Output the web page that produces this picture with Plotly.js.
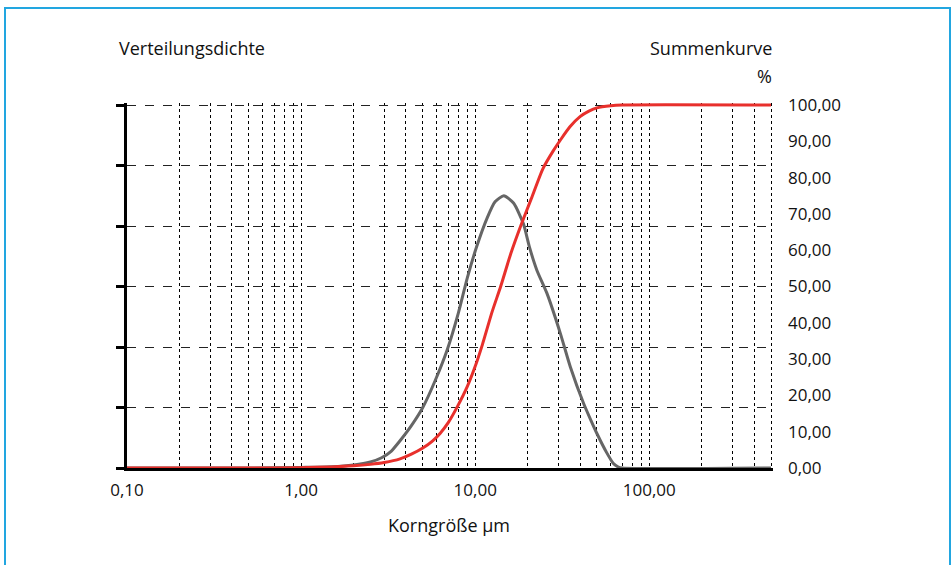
<!DOCTYPE html>
<html>
<head>
<meta charset="utf-8">
<script src="https://cdn.plot.ly/plotly-3.0.1.min.js"></script>
<style>
  html, body { margin: 0; padding: 0; background: #fff; }
  #wrap { position: relative; width: 951px; height: 565px; }
  #chart { width: 951px; height: 565px; }
  #frame { position: absolute; left: 4px; top: 7px; width: 947px; height: 570px;
           border: 2px solid #22a6e0; pointer-events: none; box-sizing: border-box; }
</style>
</head>
<body>
<div id="wrap">
  <div id="chart"></div>
  <div id="frame"></div>
</div>
<script>
// Korngröße (µm)
const sizeCum = [0.1, 0.5, 1.0, 1.5, 2.0, 2.5, 3.0, 3.7, 4.3, 5.0, 5.7, 6.3, 7.0, 7.9, 9.0, 10.0, 11.0, 12.5, 14.0, 16.0, 18.5, 21.0, 24.5, 28.0, 31.0, 35.0, 40.0, 45.0, 50.0, 60.0, 70.0, 500];
// Summenkurve (%)
const cumPct = [0, 0, 0.1, 0.3, 0.6, 1.0, 1.5, 2.5, 3.8, 5.5, 7.5, 9.6, 12.5, 16.9, 22.4, 28.0, 34.0, 43.0, 50.0, 59.0, 67.4, 74.2, 82.5, 87.3, 90.5, 94.0, 96.8, 98.3, 99.2, 99.8, 100, 100];

const sizeDens = [0.1, 0.5, 1.0, 1.5, 2.0, 2.5, 2.9, 3.3, 3.7, 4.3, 5.0, 5.9, 6.9, 8.0, 9.0, 10.2, 11.7, 13.0, 14.6, 16.6, 18.9, 20.5, 22.6, 25.8, 30.8, 35.2, 41.9, 46.0, 50.0, 57.0, 62.0, 66.0, 70.0, 500];
// Verteilungsdichte (Einheiten der linken Achse)
const density = [0, 0, 0.01, 0.02, 0.05, 0.1, 0.17, 0.28, 0.45, 0.7, 1.0, 1.45, 1.95, 2.56, 3.14, 3.66, 4.13, 4.40, 4.50, 4.38, 4.04, 3.65, 3.27, 2.89, 2.23, 1.67, 1.07, 0.8, 0.57, 0.25, 0.08, 0.02, 0, 0];

const xTickVals = [0.1, 1, 10, 100];
const xTitle = "Korngröße µm";
const leftTitle = "Verteilungsdichte";
const rightTitle = "Summenkurve";
const rightUnit = "%";

const FONT = "Open Sans, Noto Sans, sans-serif";
const TITLE_SIZE = 18;
const TICK_SIZE = 17;

// plot area: x 127..773 (646 px), y 103..468 (365 px)
const PW = 646, PH = 365;
const px = v => (v - 127) / PW;
const py = v => (468 - v) / PH;

const traces = [
  { x: sizeDens, y: density, type: "scatter", mode: "lines", yaxis: "y",
    line: { color: "#666666", width: 3, shape: "spline", smoothing: 0.6 }, hoverinfo: "skip" },
  { x: sizeCum, y: cumPct, type: "scatter", mode: "lines", yaxis: "y2",
    line: { color: "#e8302c", width: 3, shape: "spline", smoothing: 0.6 }, hoverinfo: "skip" }
];

const layout = {
  width: 951, height: 565,
  margin: { l: 127, r: 178, t: 103, b: 97, pad: 0 },
  paper_bgcolor: "#ffffff", plot_bgcolor: "#ffffff",
  showlegend: false,
  separators: ",.",
  font: { family: FONT, size: TICK_SIZE, color: "#111" },
  xaxis: {
    type: "log", range: [-1, -1 + (Math.log10(500) + 1) * PW / 644],
    tickvals: xTickVals, tickformat: ".2f",
    ticks: "", showline: true, linecolor: "#000", linewidth: 3,
    showgrid: true, gridcolor: "#000", gridwidth: 1, griddash: "dot",
    minor: { dtick: "D1", showgrid: true, gridcolor: "#000", gridwidth: 1, griddash: "dot", ticks: "" },
    zeroline: false, layer: "below traces", ticklabelstandoff: 5,
    tickfont: { family: FONT, size: TICK_SIZE, color: "#111" }
  },
  yaxis: {
    range: [0, 6 * PH / 363], tickvals: [0, 1, 2, 3, 4, 5, 6], showticklabels: false,
    ticks: "outside", ticklen: 8, tickwidth: 3, tickcolor: "#000",
    showline: true, linecolor: "#000", linewidth: 3,
    showgrid: true, gridcolor: "#222", gridwidth: 1, griddash: "dash",
    zeroline: false, layer: "below traces"
  },
  yaxis2: {
    overlaying: "y", side: "right", range: [0, 100 * PH / 363],
    tickvals: [0, 10, 20, 30, 40, 50, 60, 70, 80, 90, 100], tickformat: ".2f",
    showgrid: false, showline: false, zeroline: false, ticks: "",
    ticklabelstandoff: 14,
    tickfont: { family: FONT, size: TICK_SIZE, color: "#111" }
  },
  annotations: [
    { text: leftTitle, xref: "paper", yref: "paper", x: px(117), y: py(48),
      xanchor: "left", yanchor: "middle", showarrow: false, font: { family: FONT, size: TITLE_SIZE, color: "#111" } },
    { text: rightTitle, xref: "paper", yref: "paper", x: px(774), y: py(48),
      xanchor: "right", yanchor: "middle", showarrow: false, font: { family: FONT, size: TITLE_SIZE, color: "#111" } },
    { text: rightUnit, xref: "paper", yref: "paper", x: px(774), y: py(76),
      xanchor: "right", yanchor: "middle", showarrow: false, font: { family: FONT, size: TITLE_SIZE, color: "#111" } },
    { text: xTitle, xref: "paper", yref: "paper", x: px(449), y: py(525),
      xanchor: "center", yanchor: "middle", showarrow: false, font: { family: FONT, size: TITLE_SIZE, color: "#111" } }
  ]
};

Plotly.newPlot("chart", traces, layout, { staticPlot: true, displayModeBar: false });
</script>
</body>
</html>
